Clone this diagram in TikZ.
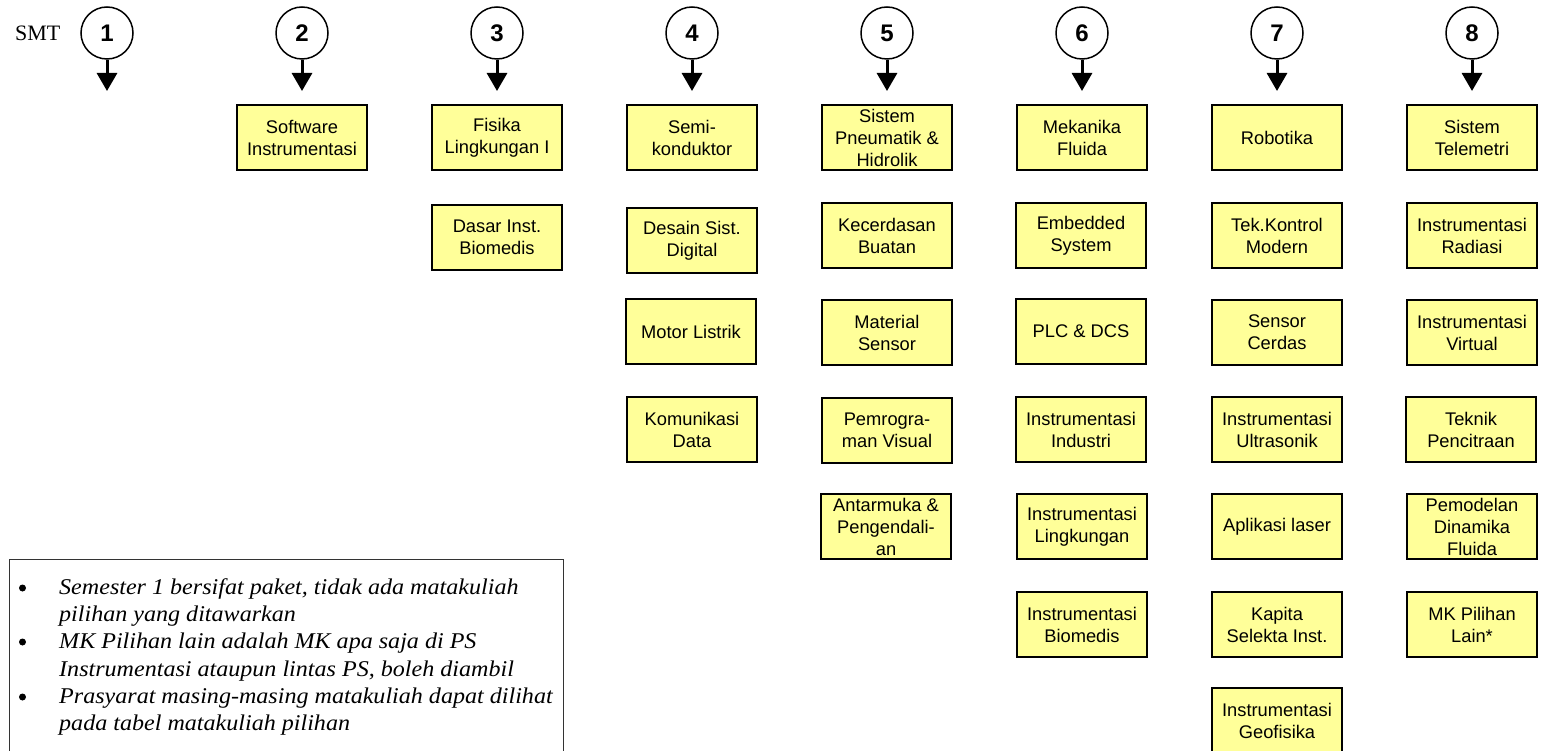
\documentclass[tikz,border=0pt]{standalone}
\usepackage{fontspec}
\setmainfont{Liberation Sans}
\newfontfamily\notefont[FakeStretch=1.07]{Liberation Serif}
\newfontfamily\smtfont{Liberation Serif}
\usetikzlibrary{arrows.meta,shadows}
\definecolor{boxyellow}{HTML}{FFFF99}
\begin{document}
\begin{tikzpicture}[x=1pt,y=-1pt,
  course/.style={draw=black, line width=1.2pt, fill=boxyellow,
    minimum width=130pt, minimum height=65pt, inner sep=0pt, align=center,
    font=\fontsize{18.3}{22}\selectfont,
    drop shadow={shadow xshift=-1.3pt, shadow yshift=-1.3pt, fill=black, opacity=0.9}},
  semcircle/.style={draw, circle, line width=1.5pt, minimum size=52pt, inner sep=0pt,
    font=\fontsize{24}{24}\selectfont\bfseries},
  semarrow/.style={line width=3pt, -{Triangle[width=20pt,length=18pt]}},
  noteline/.style={anchor=base west, inner sep=0pt, font=\notefont\itshape\fontsize{22.5}{27}\selectfont},
  notebullet/.style={circle, fill=black, inner sep=0pt, minimum size=7pt}
]
\useasboundingbox (0,0) rectangle (1541,751);

% semester header
\node[anchor=base west, inner sep=0pt, font=\smtfont\fontsize{22}{22}\selectfont] (smt) at (15,41) {SMT};
\foreach \i in {1,...,8} {
  \node[semcircle] (s\i) at ({107+195*(\i-1)},33) {\i};
  \coordinate (a\i) at ({107+195*(\i-1)},91);
  \draw[semarrow] (s\i.south) -- (a\i);
}

% semester 2
\node[course] (c2a) at (302,137.5) {Software\\Instrumentasi};
% semester 3
\node[course] (c3a) at (497,137.5) {Fisika\\Lingkungan I};
\node[course] (c3b) at (497,237.5) {Dasar Inst.\\Biomedis};
% semester 4
\node[course] (c4a) at (692,137.5) {Semi-\\konduktor};
\node[course] (c4b) at (692,240.5) {Desain Sist.\\Digital};
\node[course] (c4c) at (691,331.5) {Motor Listrik};
\node[course] (c4d) at (692,429.5) {Komunikasi\\Data};
% semester 5
\node[course] (c5a) at (887,137.5) {Sistem\\Pneumatik \&\\Hidrolik};
\node[course] (c5b) at (887,235.5) {Kecerdasan\\Buatan};
\node[course] (c5c) at (887,332.5) {Material\\Sensor};
\node[course] (c5d) at (887,430.5) {Pemrogra-\\man Visual};
\node[course] (c5e) at (886,526.5) {Antarmuka \&\\Pengendali-\\an};
% semester 6
\node[course] (c6a) at (1082,137.5) {Mekanika\\Fluida};
\node[course] (c6b) at (1081,235.5) {Embedded\\System};
\node[course] (c6c) at (1081,331.5) {PLC \& DCS};
\node[course] (c6d) at (1081,429.5) {Instrumentasi\\Industri};
\node[course] (c6e) at (1082,526.5) {Instrumentasi\\Lingkungan};
\node[course] (c6f) at (1082,624.5) {Instrumentasi\\Biomedis};
% semester 7
\node[course] (c7a) at (1277,137.5) {Robotika};
\node[course] (c7b) at (1277,235.5) {Tek.Kontrol\\Modern};
\node[course] (c7c) at (1277,332.5) {Sensor\\Cerdas};
\node[course] (c7d) at (1277,429.5) {Instrumentasi\\Ultrasonik};
\node[course] (c7e) at (1277,526.5) {Aplikasi laser};
\node[course] (c7f) at (1277,624.5) {Kapita\\Selekta Inst.};
\node[course] (c7g) at (1277,720.5) {Instrumentasi\\Geofisika};
% semester 8
\node[course] (c8a) at (1472,137.5) {Sistem\\Telemetri};
\node[course] (c8b) at (1472,235.5) {Instrumentasi\\Radiasi};
\node[course] (c8c) at (1472,332.5) {Instrumentasi\\Virtual};
\node[course] (c8d) at (1471,429.5) {Teknik\\Pencitraan};
\node[course] (c8e) at (1472,526.5) {Pemodelan\\Dinamika\\Fluida};
\node[course] (c8f) at (1472,624.5) {MK Pilihan\\Lain*};

% note box
\node[draw=black!80, line width=1pt, anchor=north west, minimum width=554pt, minimum height=220pt, inner sep=0pt] (notebox) at (8.5,558.5) {};
\node[notebullet] (b1) at (22.5,588) {};
\node[notebullet] (b2) at (22.5,642) {};
\node[notebullet] (b3) at (22.5,697) {};
\node[noteline] (l1) at (59,594) {Semester 1 bersifat paket, tidak ada matakuliah};
\node[noteline] (l2) at (59,621) {pilihan yang ditawarkan};
\node[noteline] (l3) at (59,648) {MK Pilihan lain adalah MK apa saja di PS};
\node[noteline] (l4) at (59,676) {Instrumentasi ataupun lintas PS, boleh diambil};
\node[noteline] (l5) at (59,703) {Prasyarat masing-masing matakuliah dapat dilihat};
\node[noteline] (l6) at (59,730) {pada tabel matakuliah pilihan};
\end{tikzpicture}
\end{document}
